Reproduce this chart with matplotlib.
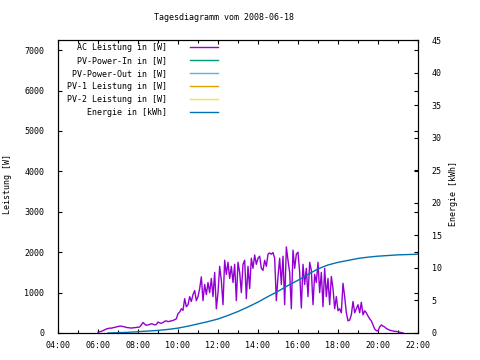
import numpy as np
import matplotlib
matplotlib.use("Agg")
import matplotlib.pyplot as plt
from matplotlib.ticker import MultipleLocator, FuncFormatter

# ---- data -------------------------------------------------------------
title = "Tagesdiagramm vom 2008-06-18"
series_labels = ["AC Leistung in [W]", "PV-Power-In in [W]", "PV-Power-Out in [W]",
                 "PV-1 Leistung in [W]", "PV-2 Leistung in [W]", "Energie in [kWh]"]
series_colors = ["#9400D3", "#009E73", "#56B4E9", "#E69F00", "#F0E442", "#0072B2"]

# AC power, logged every 5 minutes from 06:00 (hours)
ac_start = 6.0
ac_step = 5 / 60
ac_power = [
    20, 30, 40, 60, 80, 100, 110, 120, 120, 130, 140, 150,                     # 06
    160, 170, 170, 160, 150, 140, 130, 130, 120, 130, 130, 140,                # 07
    140, 150, 200, 260, 220, 190, 200, 210, 230, 220, 200, 210,                # 08
    270, 250, 240, 260, 290, 300, 280, 290, 300, 310, 330, 350,                # 09
    480, 520, 600, 560, 850, 650, 700, 900, 780, 950, 1050, 800,               # 10
    900, 1100, 1390, 800, 1200, 950, 1250, 1000, 1350, 900, 1500, 600,         # 11
    1000, 1650, 1300, 700, 1800, 1450, 1750, 1350, 1650, 1250, 1700, 800,      # 12
    1750, 1500, 1000, 1700, 1800, 850, 1650, 1100, 1850, 1600, 1930, 1700,     # 13
    1850, 1900, 1600, 1550, 1800, 1650, 1950, 1980, 1950, 1990, 1850, 800,     # 14
    1400, 1850, 1200, 1900, 700, 2130, 1800, 1500, 600, 2050, 1600, 1950,      # 15
    2000, 1500, 620, 1700, 1200, 1600, 900, 1750, 1550, 700, 1450, 1250,       # 16
    1750, 1000, 1500, 650, 1600, 900, 1350, 700, 1400, 1100, 600, 900,         # 17
    550, 600, 500, 1230, 900, 500, 300, 320, 450, 780, 500, 600,               # 18
    700, 500, 760, 450, 550, 500, 420, 350, 300, 200, 100, 60,                 # 19
    50, 150, 200, 170, 150, 110, 90, 70, 60, 50, 40, 40,                       # 20
    30, 20, 10, 0,                                                             # 21
]
ac_time = ac_start + ac_step * np.arange(len(ac_power))

# other power channels carry no data on this day
pv_in_time, pv_in = [], []
pv_out_time, pv_out = [], []
pv1_time, pv1 = [], []
pv2_time, pv2 = [], []

# cumulative energy (kWh)
energy_time = [6.5, 7.0, 7.5, 8.0, 8.5, 9.0, 9.5, 10.0, 10.5, 11.0, 11.5, 12.0,
               12.5, 13.0, 13.5, 14.0, 14.5, 15.0, 15.5, 16.0, 16.5, 17.0, 17.5,
               18.0, 18.5, 19.0, 19.5, 20.0, 20.5, 21.0, 21.5, 22.0]
energy = [0.0, 0.05, 0.1, 0.2, 0.3, 0.4, 0.55, 0.75, 1.05, 1.4, 1.75, 2.15,
          2.7, 3.3, 4.0, 4.75, 5.6, 6.4, 7.3, 8.1, 9.0, 9.85, 10.45,
          10.85, 11.15, 11.45, 11.65, 11.8, 11.9, 12.0, 12.05, 12.1]

x_range = (4, 22)
y_range = (0, 7250)
y2_range = (0, 45)

# ---- figure -----------------------------------------------------------
FONT = "DejaVu Sans Mono"
FS = 6
plt.rcParams["font.family"] = FONT
plt.rcParams["font.size"] = FS

W, H = 480, 360
fig = plt.figure(figsize=(W / 100, H / 100), dpi=100)
L, R, T, B = 58, 418, 40, 333
ax = fig.add_axes([L / W, 1 - B / H, (R - L) / W, (B - T) / H])
ax2 = ax.twinx()

lines = []
lines += ax.plot(ac_time, ac_power, color=series_colors[0], lw=1.0)
lines += ax.plot(pv_in_time, pv_in, color=series_colors[1], lw=1.0)
lines += ax.plot(pv_out_time, pv_out, color=series_colors[2], lw=1.0)
lines += ax.plot(pv1_time, pv1, color=series_colors[3], lw=1.0)
lines += ax.plot(pv2_time, pv2, color=series_colors[4], lw=1.0)
lines += ax2.plot(energy_time, energy, color=series_colors[5], lw=1.0)

ax.set_xlim(*x_range)
ax.set_ylim(*y_range)
ax2.set_ylim(*y2_range)

ax.xaxis.set_major_locator(MultipleLocator(2))
ax.xaxis.set_minor_locator(MultipleLocator(1))
ax.xaxis.set_major_formatter(FuncFormatter(lambda v, p: f"{int(round(v)):02d}:00"))
ax.yaxis.set_major_locator(MultipleLocator(1000))
ax2.yaxis.set_major_locator(MultipleLocator(5))

ax.tick_params(axis="x", which="both", direction="in", top=True, bottom=True,
               labelsize=FS, pad=6)
ax.tick_params(axis="x", which="major", length=3, width=0.8)
ax.tick_params(axis="x", which="minor", length=2, width=0.8)
ax.tick_params(axis="y", which="major", direction="in", left=True, right=True,
               labelright=False, length=3, width=0.8, labelsize=FS, pad=10)
ax2.tick_params(axis="y", which="major", direction="in", length=3, width=0.8,
                labelsize=FS, pad=10)

for a in (ax, ax2):
    for s in a.spines.values():
        s.set_linewidth(0.8)
        s.set_color("black")

fig.text(224 / W, 1 - 18 / H, title, ha="center", va="center", fontsize=FS)
fig.text(8 / W, 1 - 184 / H, "Leistung [W]", rotation=90, ha="center",
         va="center", fontsize=FS)
fig.text(453 / W, 1 - 194 / H, "Energie [kWh]", rotation=90, ha="center",
         va="center", fontsize=FS)

leg = ax2.legend(lines, series_labels, loc="upper right",
                 bbox_to_anchor=(218 / W, 1 - 43 / H), bbox_transform=fig.transFigure,
                 frameon=False, markerfirst=False, fontsize=FS,
                 handlelength=3.4, handletextpad=2.7, labelspacing=0.48,
                 borderpad=0, borderaxespad=0)

fig.savefig("out.png", dpi=100)
